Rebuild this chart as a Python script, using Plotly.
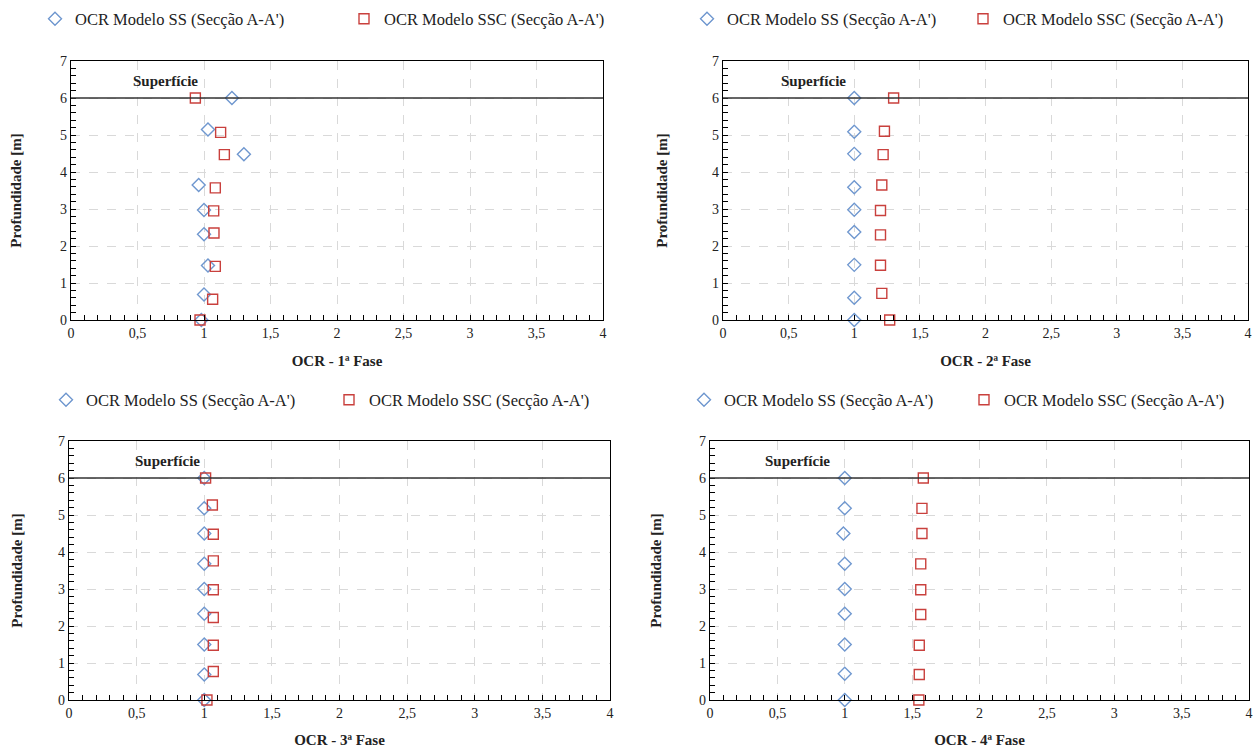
import plotly.graph_objects as go

W, H = 1256, 749

# ---- data ----
fases = ["1ª", "2ª", "3ª", "4ª"]

ss_x_1 = [1.21, 1.03, 1.30, 0.96, 1.00, 1.00, 1.03, 1.00, 0.98]
ss_y_1 = [6.00, 5.15, 4.48, 3.65, 2.97, 2.32, 1.47, 0.69, 0.00]
ssc_x_1 = [0.935, 1.125, 1.153, 1.085, 1.073, 1.075, 1.085, 1.065, 0.97]
ssc_y_1 = [6.00, 5.07, 4.47, 3.57, 2.95, 2.35, 1.45, 0.56, 0.00]

ss_x_2 = [1.00, 1.00, 1.00, 1.00, 1.00, 1.00, 1.00, 1.00, 1.00]
ss_y_2 = [6.00, 5.09, 4.49, 3.59, 2.98, 2.38, 1.49, 0.60, 0.00]
ssc_x_2 = [1.30, 1.23, 1.22, 1.21, 1.20, 1.20, 1.20, 1.21, 1.27]
ssc_y_2 = [6.00, 5.10, 4.47, 3.65, 2.96, 2.30, 1.48, 0.72, 0.00]

ss_x_3 = [1.00, 1.00, 1.00, 1.00, 1.00, 1.00, 1.00, 1.00, 1.00]
ss_y_3 = [6.00, 5.18, 4.50, 3.68, 3.00, 2.33, 1.50, 0.69, 0.00]
ssc_x_3 = [1.01, 1.06, 1.067, 1.067, 1.067, 1.067, 1.067, 1.067, 1.02]
ssc_y_3 = [6.00, 5.27, 4.48, 3.76, 2.98, 2.23, 1.48, 0.77, 0.00]

ss_x_4 = [1.00, 1.00, 0.99, 1.00, 1.00, 1.00, 1.00, 1.00, 1.00]
ss_y_4 = [6.00, 5.18, 4.50, 3.68, 3.00, 2.33, 1.50, 0.71, 0.00]
ssc_x_4 = [1.583, 1.573, 1.573, 1.564, 1.564, 1.564, 1.553, 1.553, 1.55]
ssc_y_4 = [6.00, 5.18, 4.50, 3.68, 2.98, 2.31, 1.48, 0.69, 0.00]

ss_x = [ss_x_1, ss_x_2, ss_x_3, ss_x_4]
ss_y = [ss_y_1, ss_y_2, ss_y_3, ss_y_4]
ssc_x = [ssc_x_1, ssc_x_2, ssc_x_3, ssc_x_4]
ssc_y = [ssc_y_1, ssc_y_2, ssc_y_3, ssc_y_4]

superficie_y = 6
superficie_label_x = [0.71, 0.69, 0.73, 0.65]

x_ticks = [0, 0.5, 1, 1.5, 2, 2.5, 3, 3.5, 4]
y_ticks = [0, 1, 2, 3, 4, 5, 6, 7]

name_ss = "OCR Modelo SS (Secção A-A')"
name_ssc = "OCR Modelo SSC (Secção A-A')"

# ---- layout geometry (pixels) ----
boxes = [  # x0, x1, ytop, ybot
    (71, 603, 61, 320),
    (723, 1248, 61, 320),
    (69, 610, 441, 700),
    (710, 1249, 441, 700),
]
legend_pos = [(35, 19, 264), (687, 19, 231), (46, 400, 238), (684, 400, 235)]
ytitle_standoff = [34, 40, 31, 33]
xtitle_standoff = [15, 15, 14, 14]

FONT = "'Times New Roman', 'Liberation Serif', Tinos, serif"
BLUE = "#6f97cf"
RED = "#c9403d"

fig = go.Figure()
layout = dict(
    width=W, height=H, margin=dict(l=0, r=0, t=0, b=0, autoexpand=False),
    paper_bgcolor="white", plot_bgcolor="white",
    separators=", ",
    font=dict(family=FONT, size=13, color="#222"),
    shapes=[], annotations=[],
)

for i in range(4):
    x0, x1, yt, yb = boxes[i]
    sfx = "" if i == 0 else str(i + 1)
    xa, ya = "x" + sfx, "y" + sfx
    lg = "legend" + sfx
    fig.add_trace(go.Scatter(
        x=ss_x[i], y=ss_y[i], mode="markers", name=name_ss,
        marker=dict(symbol="diamond-open", size=10, color=BLUE, line=dict(width=1.4)),
        xaxis=xa, yaxis=ya, legend=lg, cliponaxis=False))
    fig.add_trace(go.Scatter(
        x=ssc_x[i], y=ssc_y[i], mode="markers", name=name_ssc,
        marker=dict(symbol="square-open", size=10, color=RED, line=dict(width=1.4)),
        xaxis=xa, yaxis=ya, legend=lg, cliponaxis=False))

    axis_common = dict(
        showline=True, linecolor="black", linewidth=1.3, mirror=True,
        ticks="inside", ticklen=5, tickcolor="black",
        showgrid=True, gridcolor="#d9d9d9", griddash="dash", gridwidth=1,
        zeroline=False, tickfont=dict(family=FONT, size=14, color="#222"),
        automargin=False,
    )
    layout["xaxis" + sfx] = dict(
        axis_common, domain=[x0 / W, x1 / W], anchor=ya, range=[0, 4],
        tickvals=x_ticks,
        minor=dict(dtick=0.1, ticks="inside", ticklen=5, tickcolor="black", showgrid=False),
        title=dict(text="<b>OCR - " + fases[i] + " Fase</b>",
                   font=dict(family=FONT, size=15, color="#222"),
                   standoff=xtitle_standoff[i]),
    )
    layout["yaxis" + sfx] = dict(
        axis_common, domain=[1 - yb / H, 1 - yt / H], anchor=xa, range=[0, 7],
        tickvals=y_ticks,
        minor=dict(dtick=0.2, ticks="inside", ticklen=5, tickcolor="black", showgrid=False),
        title=dict(text="<b>Profundidade [m]</b>",
                   font=dict(family=FONT, size=15, color="#222"),
                   standoff=ytitle_standoff[i]),
    )
    layout["shapes"].append(dict(
        type="line", xref=xa + " domain", yref=ya, x0=0, x1=1,
        y0=superficie_y, y1=superficie_y, line=dict(color="#333", width=1.5)))
    layout["annotations"].append(dict(
        x=superficie_label_x[i], y=superficie_y, xref=xa, yref=ya,
        text="<b>Superfície</b>", showarrow=False, yshift=17,
        font=dict(family=FONT, size=15, color="#222")))
    lx, ly, ew = legend_pos[i]
    layout[lg] = dict(
        orientation="h", x=lx / W, y=1 - ly / H, xanchor="left", yanchor="middle",
        entrywidth=ew, font=dict(family=FONT, size=16.5, color="#222"),
        bgcolor="rgba(0,0,0,0)", itemwidth=30, tracegroupgap=0,
    )

fig.update_layout(**layout)
fig.write_html("out.html")
